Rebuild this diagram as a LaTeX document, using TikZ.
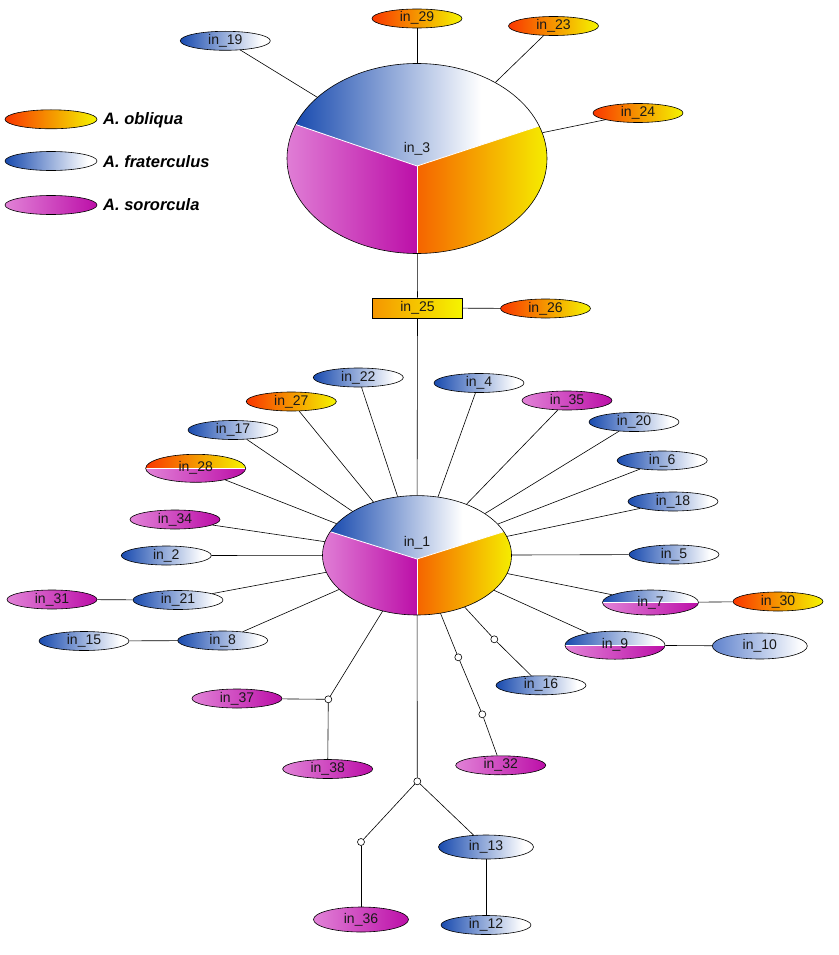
\documentclass[tikz,border=0pt]{standalone}
\usepackage{fontspec}
\setmainfont{Liberation Sans}
\usetikzlibrary{shapes.geometric,calc}
\definecolor{oA}{RGB}{250,55,0}
\definecolor{oB}{RGB}{245,150,0}
\definecolor{oC}{RGB}{245,245,0}
\definecolor{pOA}{RGB}{245,100,0}
\definecolor{bA}{RGB}{25,75,175}
\definecolor{bL}{RGB}{95,130,205}
\definecolor{pA}{RGB}{225,130,215}
\definecolor{pB}{RGB}{188,15,168}
\pgfdeclarehorizontalshading{oblq}{100bp}{color(0bp)=(oA); color(25bp)=(oA); color(50bp)=(oB); color(75bp)=(oC); color(100bp)=(oC)}
\pgfdeclarehorizontalshading{fraS}{100bp}{color(0bp)=(bA); color(25bp)=(bA); color(70bp)=(white); color(100bp)=(white)}
\pgfdeclarehorizontalshading{fraL}{100bp}{color(0bp)=(bL); color(25bp)=(bL); color(72bp)=(white); color(100bp)=(white)}
\pgfdeclarehorizontalshading{fraP}{100bp}{color(0bp)=(bA); color(25bp)=(bA); color(63bp)=(white); color(100bp)=(white)}
\pgfdeclarehorizontalshading{oblP}{100bp}{color(0bp)=(pOA); color(25bp)=(pOA); color(75bp)=(oC); color(100bp)=(oC)}
\pgfdeclarehorizontalshading{oblR}{100bp}{color(0bp)=(oB); color(25bp)=(oB); color(75bp)=(oC); color(100bp)=(oC)}
\newcommand\nodefont{\fontsize{14}{16}\selectfont}
\newcommand\legfont{\fontsize{16.5}{19}\selectfont\bfseries\itshape}
\tikzset{
  nd/.style={ellipse, draw=black, line width=0.6pt, minimum width=90pt, minimum height=19pt,
    inner sep=0pt, text height=9pt, text depth=2pt, font=\nodefont, text=black!90},
  obl/.style={nd, shade, shading=oblq},
  fra/.style={nd, shade, shading=fraS},
  fral/.style={nd, shade, shading=fraL},
  sor/.style={nd, left color=pA, right color=pB},
  bignd/.style={minimum width=100pt, minimum height=28pt},
  hid/.style={circle, draw=black, fill=white, line width=0.6pt, minimum size=7pt, inner sep=0pt},
  conn/.style={line width=0.6pt, draw=black},
  halfop/.style={nd, path picture={
    \shade[shading=oblq] (path picture bounding box.north west) rectangle (path picture bounding box.east);
    \shade[left color=pA, right color=pB] (path picture bounding box.west) rectangle (path picture bounding box.south east);
    \draw[white, line width=0.8pt] (path picture bounding box.west) -- (path picture bounding box.east);}},
  halffp/.style={nd, path picture={
    \shade[shading=fraS] (path picture bounding box.north west) rectangle (path picture bounding box.east);
    \shade[left color=pA, right color=pB] (path picture bounding box.west) rectangle (path picture bounding box.south east);
    \draw[white, line width=0.8pt] (path picture bounding box.west) -- (path picture bounding box.east);}},
  pielbl/.style={font=\nodefont, text=black!90, inner sep=0pt},
}
\begin{document}
\begin{tikzpicture}[x=1pt,y=1pt]
\useasboundingbox (0,0) rectangle (838,-955);
\fill[white] (0,0) rectangle (838,-955);

% ---------- pie in_3 ----------
\coordinate (c3) at (417,-158.5);
\coordinate (v3) at (417,-166);
\node[ellipse, minimum width=260pt, minimum height=190pt, inner sep=0pt] (n3) at (c3) {};
\shade[shading=fraP] (v3) -- ($(c3)+(159:130pt and 95pt)$) arc[start angle=159, end angle=20, x radius=130pt, y radius=95pt] -- cycle;
\shade[shading=oblP] (v3) -- ($(c3)+(20:130pt and 95pt)$) arc[start angle=20, end angle=-90, x radius=130pt, y radius=95pt] -- cycle;
\shade[left color=pA, right color=pB] (v3) -- ($(c3)+(270:130pt and 95pt)$) arc[start angle=270, end angle=159, x radius=130pt, y radius=95pt] -- cycle;
\draw[white, line width=0.8pt] ($(c3)+(159:130pt and 95pt)$) -- (v3) -- ($(c3)+(20:130pt and 95pt)$);
\draw[white, line width=0.8pt] (v3) -- ($(c3)+(270:130pt and 95pt)$);
\draw[line width=0.6pt] (c3) ellipse [x radius=130pt, y radius=95pt];
\node[pielbl] (l3) at (417,-148.5) {in\_3};

% ---------- pie in_1 ----------
\coordinate (c1) at (417,-555.3);
\coordinate (v1) at (417,-559);
\node[ellipse, minimum width=189pt, minimum height=119.4pt, inner sep=0pt] (n1) at (c1) {};
\shade[shading=fraP] (v1) -- ($(c1)+(156.7:94.5pt and 59.7pt)$) arc[start angle=156.7, end angle=23.3, x radius=94.5pt, y radius=59.7pt] -- cycle;
\shade[shading=oblP] (v1) -- ($(c1)+(23.3:94.5pt and 59.7pt)$) arc[start angle=23.3, end angle=-90, x radius=94.5pt, y radius=59.7pt] -- cycle;
\shade[left color=pA, right color=pB] (v1) -- ($(c1)+(270:94.5pt and 59.7pt)$) arc[start angle=270, end angle=156.7, x radius=94.5pt, y radius=59.7pt] -- cycle;
\draw[white, line width=0.8pt] ($(c1)+(156.7:94.5pt and 59.7pt)$) -- (v1) -- ($(c1)+(23.3:94.5pt and 59.7pt)$);
\draw[white, line width=0.8pt] (v1) -- ($(c1)+(270:94.5pt and 59.7pt)$);
\draw[line width=0.6pt] (c1) ellipse [x radius=94.5pt, y radius=59.7pt];
\node[pielbl] (l1) at (417,-542.5) {in\_1};

% ---------- legend ----------
\node[obl, minimum width=92pt] (lg1) at (51,-119.3) {};
\node[fra, minimum width=92pt] (lg2) at (51,-161) {};
\node[sor, minimum width=92pt] (lg3) at (51,-205) {};
\node[anchor=west, font=\legfont, inner sep=0pt] (lt1) at (103,-120) {A. obliqua};
\node[anchor=west, font=\legfont, inner sep=0pt] (lt2) at (103,-161.5) {A. fraterculus};
\node[anchor=west, font=\legfont, inner sep=0pt] (lt3) at (103,-205) {A. sororcula};

% ---------- top nodes ----------
\node[obl] (in29) at (417,-18.5) {in\_29};
\node[obl] (in23) at (553.5,-26) {in\_23};
\node[fra] (in19) at (225.3,-40.8) {in\_19};
\node[obl] (in24) at (638,-113) {in\_24};
\node[draw=black, line width=0.6pt, shade, shading=oblR, rectangle, minimum width=90pt, minimum height=20pt,
  inner sep=0pt, text height=9pt, text depth=2pt, font=\nodefont, text=black!90] (in25) at (417.5,-308) {in\_25};
\node[obl] (in26) at (545.5,-308.5) {in\_26};

% ---------- around in_1 ----------
\node[fra] (in22) at (358.3,-377.5) {in\_22};
\node[fra] (in4) at (479,-383) {in\_4};
\node[obl] (in27) at (291.3,-401.5) {in\_27};
\node[sor] (in35) at (567,-400.5) {in\_35};
\node[fra] (in17) at (233,-430) {in\_17};
\node[fra] (in20) at (634,-422) {in\_20};
\node[halfop, bignd] (in28) at (195.7,-468.3) {in\_28};
\node[fra] (in6) at (662.2,-460.5) {in\_6};
\node[sor] (in34) at (175,-519.5) {in\_34};
\node[fra] (in18) at (673,-501.5) {in\_18};
\node[fra] (in2) at (166.3,-555.5) {in\_2};
\node[fra] (in5) at (674,-554.5) {in\_5};
\node[sor] (in31) at (52,-599.5) {in\_31};
\node[fra] (in21) at (178,-600) {in\_21};
\node[halffp, minimum width=96pt, minimum height=25pt] (in7) at (650.5,-602.5) {in\_7};
\node[obl] (in30) at (778,-601.5) {in\_30};
\node[fra] (in15) at (84,-641) {in\_15};
\node[fra] (in8) at (222.7,-640.5) {in\_8};
\node[halffp, bignd] (in9) at (615,-645.2) {in\_9};
\node[fral, minimum width=95pt, minimum height=26pt] (in10) at (759.8,-646) {in\_10};
\node[fra] (in16) at (541,-685.3) {in\_16};
\node[sor] (in37) at (237,-698.5) {in\_37};
\node[sor] (in38) at (327.7,-769) {in\_38};
\node[sor] (in32) at (500.7,-765.3) {in\_32};
\node[fra, minimum width=95pt, minimum height=24pt] (in13) at (486,-847) {in\_13};
\node[sor, minimum width=95pt, minimum height=25pt] (in36) at (361,-919.5) {in\_36};
\node[fra] (in12) at (486,-925) {in\_12};

% ---------- hidden vertices ----------
\node[hid] (hA) at (328.3,-699.3) {};
\node[hid] (hB) at (494.3,-639.3) {};
\node[hid] (hC) at (458.3,-657.3) {};
\node[hid] (hD) at (482.3,-714.3) {};
\node[hid] (hE) at (417.3,-781.3) {};
\node[hid] (hF) at (361,-842) {};

% ---------- connectors ----------
\draw[conn] (n3) -- (in29);
\draw[conn] (n3) -- (in23);
\draw[conn] (n3) -- (in19);
\draw[conn] (n3) -- (in24);
\draw[conn] (n3) -- (in25);
\draw[conn] (in25) -- (in26);
\draw[conn] (in25) -- (n1);
\foreach \t in {in22,in4,in27,in35,in17,in20,in28,in6,in34,in18,in2,in5,in21,in7,in8,in9}
  \draw[conn] (n1) -- (\t);
\draw[conn] (in21) -- (in31);
\draw[conn] (in8) -- (in15);
\draw[conn] (in7) -- (in30);
\draw[conn] (in9) -- (in10);
\draw[conn] (n1) -- (hA);
\draw[conn] (hA) -- (in37);
\draw[conn] (hA) -- (in38);
\draw[conn] (n1) -- (hB);
\draw[conn] (hB) -- (in16);
\draw[conn] (n1) -- (hC);
\draw[conn] (hC) -- (hD);
\draw[conn] (hD) -- (in32);
\draw[conn] (n1) -- (hE);
\draw[conn] (hE) -- (in13);
\draw[conn] (hE) -- (hF);
\draw[conn] (hF) -- (in36);
\draw[conn] (in13) -- (in12);
\end{tikzpicture}
\end{document}
